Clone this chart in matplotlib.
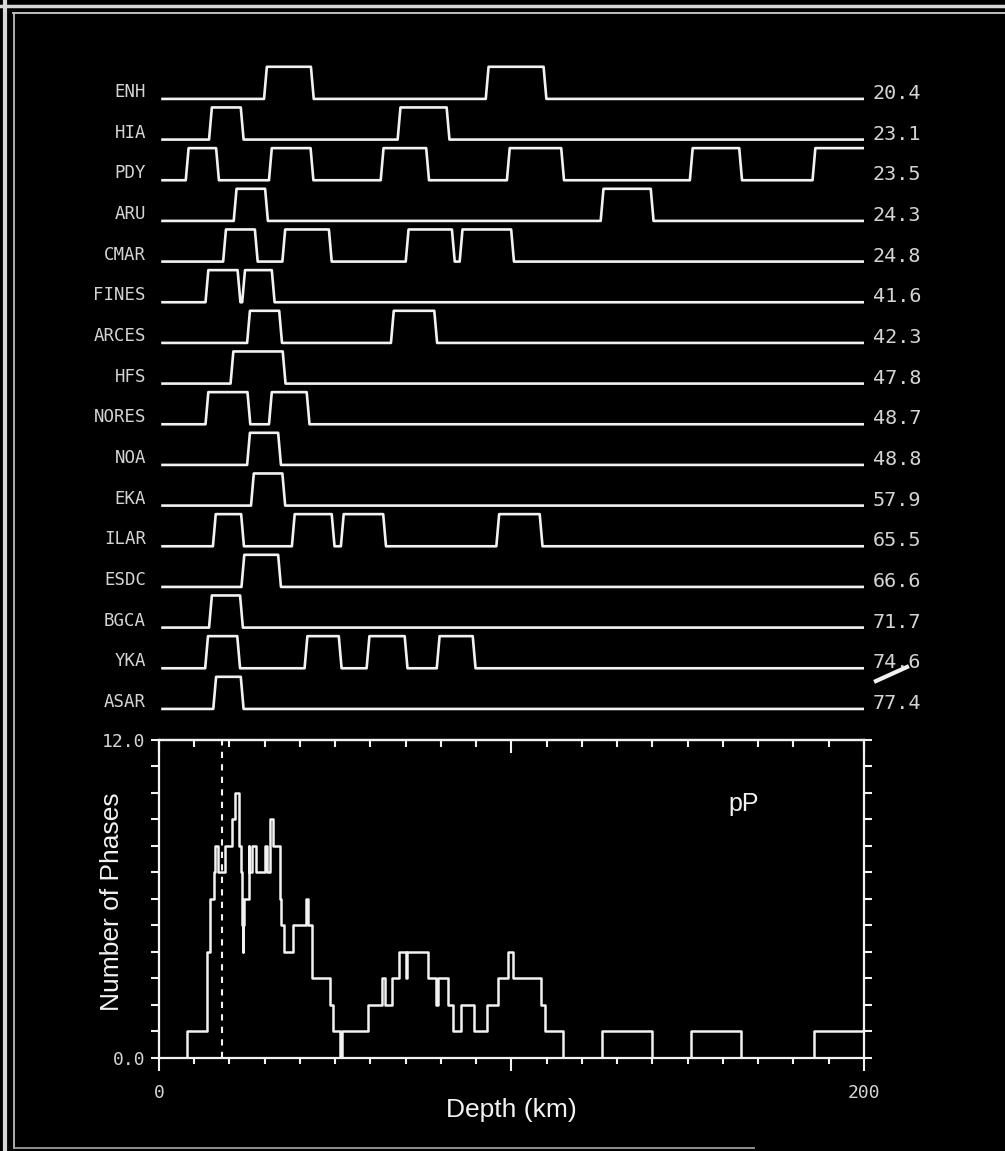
import numpy as np
import matplotlib
matplotlib.use('Agg')
import matplotlib.pyplot as plt
from matplotlib.lines import Line2D
from matplotlib.ticker import MultipleLocator

# station names and distances (deg), top to bottom
stations = ['ENH', 'HIA', 'PDY', 'ARU', 'CMAR', 'FINES', 'ARCES', 'HFS',
            'NORES', 'NOA', 'EKA', 'ILAR', 'ESDC', 'BGCA', 'YKA', 'ASAR']
distances = ['20.4', '23.1', '23.5', '24.3', '24.8', '41.6', '42.3', '47.8',
             '48.7', '48.8', '57.9', '65.5', '66.6', '71.7', '74.6', '77.4']

# pP depth windows per station (km), start/end pairs
enh = [30.2, 43.5, 93.1, 109.5]
hia = [14.6, 23.6, 68.1, 82.0]
pdy = [8.0, 16.6, 31.6, 43.4, 63.3, 76.2, 99.1, 114.5, 151.0, 165.0, 185.8, 200.0]
aru = [21.6, 30.5, 125.7, 139.9]
cmar = [18.6, 27.6, 35.4, 48.6, 70.4, 83.5, 85.7, 100.3]
fines = [13.6, 22.7, 24.0, 32.4]
arces = [25.4, 34.5, 66.2, 78.5]
hfs = [20.7, 35.5]
nores = [13.6, 25.5, 31.6, 42.3]
noa = [25.4, 34.2]
eka = [26.5, 35.4]
ilar = [15.7, 23.7, 38.1, 49.4, 52.0, 64.0, 96.1, 108.4]
esdc = [23.8, 34.2]
bgca = [14.6, 23.4]
yka = [13.5, 22.6, 41.7, 51.4, 59.3, 70.1, 79.2, 89.4]
asar = [15.8, 23.6]
windows = [enh, hia, pdy, aru, cmar, fines, arces, hfs,
           nores, noa, eka, ilar, esdc, bgca, yka, asar]

# number of phases vs depth (step curve)
depth = [0, 8.0, 13.5, 13.6, 14.6, 15.7, 15.8, 16.6, 18.6, 20.7, 21.6, 22.6,
         22.7, 23.4, 23.6, 23.7, 23.8, 24.0, 25.4, 25.5, 26.5, 27.6, 30.2,
         30.5, 31.6, 32.4, 34.2, 34.5, 35.5, 38.1, 41.7, 42.3, 43.4, 43.5,
         48.6, 49.4, 51.4, 52.0, 59.3, 63.3, 64.0, 66.2, 68.1, 70.1, 70.4,
         76.2, 78.5, 79.2, 82.0, 83.5, 85.7, 89.4, 93.1, 96.1, 99.1, 100.3,
         108.4, 109.5, 114.5, 125.7, 139.9, 151.0, 165.0, 185.8, 200.0]
phases = [0, 1, 2, 4, 6, 7, 8, 7, 8, 9, 10, 9,
          8, 7, 5, 4, 5, 6, 8, 7, 8, 7, 8,
          7, 9, 8, 6, 5, 4, 5, 6, 5, 4, 3,
          2, 1, 0, 1, 2, 3, 2, 3, 4, 3, 4,
          3, 2, 3, 2, 1, 2, 1, 2, 3, 4, 3,
          2, 1, 0, 1, 0, 1, 0, 1, 1]

fg = '#f2f2f2'
txt = '#d4d4d4'
mono = 'DejaVu Sans Mono'
sans = 'Liberation Sans'


def trace(w, x0=1.0, x1=200.0, r=0.4, h=0.79):
    xs, ys = [x0], [0]
    for s, e in zip(w[::2], w[1::2]):
        xs += [s - r, s + r]
        ys += [0, h]
        if e >= x1:
            xs.append(x1)
            ys.append(h)
            return xs, ys
        xs += [e - r, e + r]
        ys += [h, 0]
    xs.append(x1)
    ys.append(0)
    return xs, ys


fig = plt.figure(figsize=(10.05, 11.51), dpi=100, facecolor='black')

# station traces
ax1 = fig.add_axes([0.1582, 0.3664, 0.7015, 0.583])
ax1.set_facecolor('black')
ax1.set_xlim(0, 200)
ax1.set_ylim(-15.5, 1.0)
ax1.axis('off')
for i, (name, dist, w) in enumerate(zip(stations, distances, windows)):
    xs, ys = trace(w)
    ax1.plot(xs, np.array(ys) - i, color=fg, lw=1.9)
    ax1.text(-3.7, -i + 0.17, name, ha='right', va='center', color=txt,
             family=mono, fontsize=12.5, clip_on=False)
    ax1.text(202.5, -i + 0.13, dist, ha='left', va='center', color=txt,
             family=mono, fontsize=14.5, clip_on=False)

# number of phases
ax2 = fig.add_axes([0.1582, 0.0808, 0.7015, 0.2763])
ax2.set_facecolor('black')
ax2.step(depth, phases, where='post', color=fg, lw=1.8)
ax2.axvline(18, color=fg, lw=1.5, ls=(0, (3, 3)))
ax2.set_xlim(0, 200)
ax2.set_ylim(0, 12)
for s in ax2.spines.values():
    s.set_color(fg)
    s.set_linewidth(1.6)

ax2.set_xticks([0, 100, 200])
ax2.set_xticklabels(['0', '', '200'])
ax2.xaxis.set_minor_locator(MultipleLocator(10))
ax2.set_yticks(range(13))
ax2.set_yticklabels(['0.0'] + [''] * 11 + ['12.0'])
ax2.tick_params(axis='x', which='major', direction='out', length=9.5, width=1.5,
                colors=fg, labelcolor=txt, labelsize=13, pad=9)
ax2.tick_params(axis='x', which='minor', direction='out', length=4, width=1.5,
                colors=fg)
ax2.tick_params(axis='y', direction='out', length=5.5, width=1.5, left=True,
                right=True, colors=fg, labelcolor=txt, labelsize=13, pad=4)
for lab in ax2.get_xticklabels() + ax2.get_yticklabels():
    lab.set_family(mono)

top = ax2.secondary_xaxis('top')
top.set_xticks([0, 100, 200])
top.xaxis.set_minor_locator(MultipleLocator(10))
top.tick_params(axis='x', which='major', direction='in', length=9.5, width=1.5,
                colors=fg, labeltop=False)
top.tick_params(axis='x', which='minor', direction='in', length=5, width=1.5,
                colors=fg)
top.spines['top'].set_color(fg)
top.spines['top'].set_linewidth(1.6)

ax2.set_xlabel('Depth (km)', color=fg, family=sans, fontsize=19)
ax2.xaxis.set_label_coords(0.5, -0.125)
ax2.set_ylabel('Number of Phases', color=fg, family=sans, fontsize=19)
ax2.yaxis.set_label_coords(-0.05, 0.49)
ax2.text(166, 9.6, 'pP', color=fg, family=sans, fontsize=18,
         ha='center', va='center')

# scan frame
fig.add_artist(Line2D([0, 1], [0.9948, 0.9948], transform=fig.transFigure,
                      color='#d8d8d8', lw=2.5))
fig.add_artist(Line2D([0.013, 1], [0.9887, 0.9887], transform=fig.transFigure,
                      color='#cfcfcf', lw=1.3))
fig.add_artist(Line2D([0.005, 0.005], [0, 1], transform=fig.transFigure,
                      color='#d8d8d8', lw=3))
fig.add_artist(Line2D([0.0139, 0.0139], [0.003, 0.9887], transform=fig.transFigure,
                      color='#bdbdbd', lw=1.3))
fig.add_artist(Line2D([0.0139, 0.75], [0.003, 0.003], transform=fig.transFigure,
                      color='#9a9a9a', lw=1.3))
# pen mark over YKA distance
fig.add_artist(Line2D([0.8716, 0.9025], [0.4083, 0.4205], transform=fig.transFigure,
                      color=fg, lw=3))

fig.savefig('out.png', dpi=100, facecolor='black')
